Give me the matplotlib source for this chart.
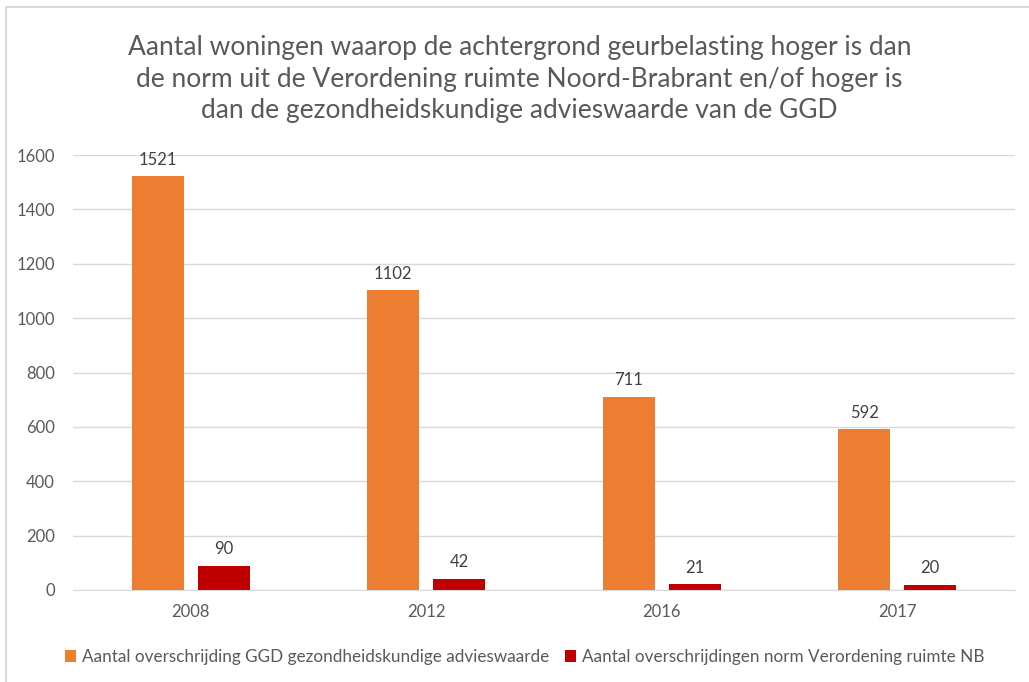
import matplotlib
matplotlib.use("Agg")
import matplotlib.pyplot as plt
import numpy as np
from matplotlib.patches import Rectangle

plt.rcParams['font.family'] = ['Lato', 'DejaVu Sans']

# data
jaren = ['2008', '2012', '2016', '2017']
ggd = [1521, 1102, 711, 592]
norm_nb = [90, 42, 21, 20]
naam_ggd = 'Aantal overschrijding GGD gezondheidskundige advieswaarde'
naam_nb = 'Aantal overschrijdingen norm Verordening ruimte NB'
titel = ('Aantal woningen waarop de achtergrond geurbelasting hoger is dan\n'
         'de norm uit de Verordening ruimte Noord-Brabrant en/of hoger is\n'
         'dan de gezondheidskundige advieswaarde van de GGD')

oranje = '#ED7D31'
rood = '#C00000'
grijs = '#595959'

fig = plt.figure(figsize=(10.29, 6.82), dpi=100)
ax = fig.add_axes([73/1029, 1 - 590/682, (1015 - 73)/1029, (590 - 155)/682])

# rand om de grafiek
fig.patches.append(Rectangle((6/1029, -0.1), 2, (682 - 7)/682 + 0.1,
                             transform=fig.transFigure, fill=False,
                             edgecolor='#D9D9D9', linewidth=1.5))

x = np.arange(len(jaren))
b = 0.22
b1 = ax.bar(x - 0.14, ggd, b, color=oranje, label=naam_ggd, zorder=3)
b2 = ax.bar(x + 0.14, norm_nb, b, color=rood, label=naam_nb, zorder=3)
ax.bar_label(b1, padding=6, fontsize=12, color='#404040')
ax.bar_label(b2, padding=6, fontsize=12, color='#404040')

ax.set_xlim(-0.5, len(jaren) - 0.5)
ax.set_ylim(0, 1600)
ax.set_yticks(range(0, 1601, 200))
ax.set_xticks(x)
ax.set_xticklabels(jaren)
ax.grid(axis='y', color='#D9D9D9', linewidth=1, zorder=0)
for s in ax.spines.values():
    s.set_visible(False)
ax.spines['bottom'].set_visible(True)
ax.spines['bottom'].set_color('#D9D9D9')
ax.tick_params(length=0, labelsize=12, colors=grijs)
ax.tick_params(axis='y', pad=13)
ax.tick_params(axis='x', pad=10)

fig.text(0.505, 1 - 79/682, titel, ha='center', va='center', fontsize=19,
         color=grijs, linespacing=1.33)

fig.legend(loc='center', bbox_to_anchor=(0.51, 1 - 657/682), ncol=2,
           frameon=False, fontsize=12.3, labelcolor=grijs, handlelength=0.65,
           handleheight=0.65, handletextpad=0.35, columnspacing=0.9)

fig.savefig('out.png', dpi=100)
